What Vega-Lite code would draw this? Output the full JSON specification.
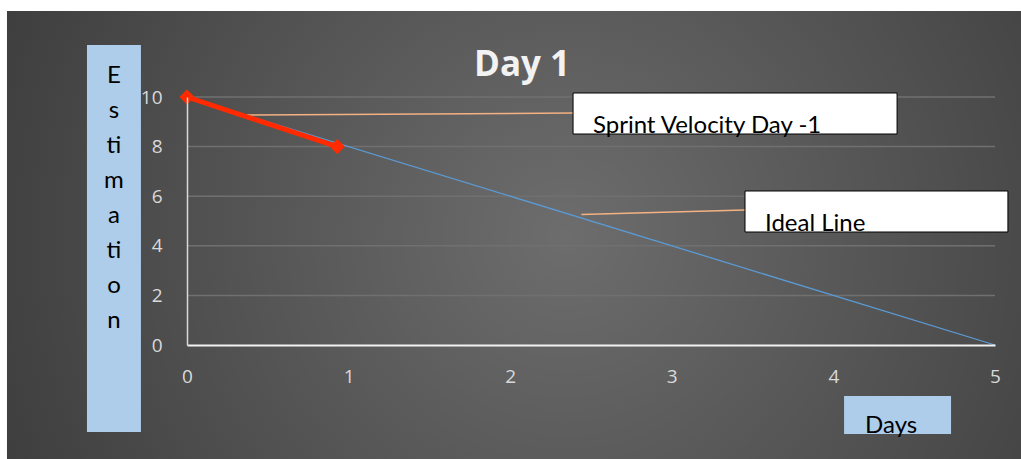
{
  "$schema": "https://vega.github.io/schema/vega-lite/v6.json",
  "width": 808,
  "height": 248,
  "autosize": {"type": "none"},
  "padding": {"left": 187, "top": 97, "right": 26, "bottom": 114},
  "background": "#ffffff",
  "title": {"text": "Day 1", "font": "Open Sans", "fontSize": 35, "fontWeight": "bold", "color": "#f2f2f2", "anchor": "middle", "frame": "group", "dx": -69, "offset": -100, "baseline": "alphabetic", "zindex": 1},
  "config": {
    "view": {"stroke": null},
    "axisX": {"tickCount": 5, "labelFlush": false, "ticks": false, "grid": false, "domainColor": "#f2f2f2", "domainWidth": 2, "labelColor": "#d9d9d9", "labelFontSize": 19, "labelFont": "Open Sans", "labelPadding": 22},
    "axisY": {"tickCount": 5, "ticks": false, "grid": false, "domainColor": "#d9d9d9", "domainWidth": 1.5, "labelColor": "#d9d9d9", "labelFontSize": 19, "labelFont": "Open Sans", "labelPadding": 25}
  },
  "datasets": {
    "ideal": [{"day": 0, "est": 10}, {"day": 5, "est": 0}],
    "sprint": [{"day": 0, "est": 10}, {"day": 0.93, "est": 8}],
    "grid": [{"est": 2}, {"est": 4}, {"est": 6}, {"est": 8}, {"est": 10}]
  },
  "layer": [
    {
      "data": {"values": [{}]},
      "mark": {"type": "rect", "fill": {"gradient": "radial", "x1": 0.55, "y1": 0.5, "r1": 0, "x2": 0.55, "y2": 0.5, "r2": 0.75, "stops": [{"offset": 0, "color": "#6d6d6d"}, {"offset": 1, "color": "#323232"}]}},
      "encoding": {
        "x": {"datum": -1.114, "type": "quantitative", "scale": {"domain": [0, 5], "nice": false, "zero": false}, "title": null},
        "x2": {"datum": 5.17},
        "y": {"datum": 13.47, "type": "quantitative", "scale": {"domain": [0, 10], "nice": false}, "title": null},
        "y2": {"datum": -4.65}
      }
    },
    {
      "data": {"name": "grid"},
      "mark": {"type": "rule", "color": "#707070", "strokeWidth": 1.5},
      "encoding": {
        "y": {"field": "est", "type": "quantitative", "scale": {"domain": [0, 10], "nice": false}, "title": null}
      }
    },
    {
      "data": {"name": "ideal"},
      "mark": {"type": "line", "color": "#5b9bd5", "strokeWidth": 1.3},
      "encoding": {
        "x": {"field": "day", "type": "quantitative", "scale": {"domain": [0, 5], "nice": false, "zero": false}, "title": null, "axis": {"zindex": 1, "tickCount": 5, "labelFlush": false, "ticks": false, "grid": false, "domainColor": "#f2f2f2", "domainWidth": 2, "labelColor": "#d9d9d9", "labelFontSize": 19, "labelFont": "Open Sans", "labelPadding": 22}},
        "y": {"field": "est", "type": "quantitative", "scale": {"domain": [0, 10], "nice": false}, "title": null, "axis": {"zindex": 1, "tickCount": 5, "ticks": false, "grid": false, "domainColor": "#d9d9d9", "domainWidth": 1.5, "labelColor": "#d9d9d9", "labelFontSize": 19, "labelFont": "Open Sans", "labelPadding": 25}}
      }
    },
    {
      "data": {"values": [{}]},
      "mark": {"type": "rule", "color": "#f4b183", "strokeWidth": 1.5},
      "encoding": {
        "x": {"datum": 0.347, "type": "quantitative", "scale": {"domain": [0, 5], "nice": false, "zero": false}, "title": null},
        "x2": {"datum": 2.389},
        "y": {"datum": 9.27, "type": "quantitative", "scale": {"domain": [0, 10], "nice": false}, "title": null},
        "y2": {"datum": 9.35}
      }
    },
    {
      "data": {"values": [{}]},
      "mark": {"type": "rule", "color": "#f4b183", "strokeWidth": 1.5},
      "encoding": {
        "x": {"datum": 2.44, "type": "quantitative", "scale": {"domain": [0, 5], "nice": false, "zero": false}, "title": null},
        "x2": {"datum": 3.453},
        "y": {"datum": 5.26, "type": "quantitative", "scale": {"domain": [0, 10], "nice": false}, "title": null},
        "y2": {"datum": 5.44}
      }
    },
    {
      "data": {"name": "sprint"},
      "mark": {"type": "line", "color": "#ff2a00", "strokeWidth": 5},
      "encoding": {
        "x": {"field": "day", "type": "quantitative", "scale": {"domain": [0, 5], "nice": false, "zero": false}, "title": null},
        "y": {"field": "est", "type": "quantitative", "scale": {"domain": [0, 10], "nice": false}, "title": null}
      }
    },
    {
      "data": {"name": "sprint"},
      "mark": {"type": "point", "shape": "diamond", "filled": true, "color": "#ff2a00", "opacity": 1, "size": 230},
      "encoding": {
        "x": {"field": "day", "type": "quantitative", "scale": {"domain": [0, 5], "nice": false, "zero": false}, "title": null},
        "y": {"field": "est", "type": "quantitative", "scale": {"domain": [0, 10], "nice": false}, "title": null}
      }
    },
    {
      "data": {"values": [{}]},
      "mark": {"type": "rect", "fill": "#000000", "opacity": 0.5, "xOffset": 3, "yOffset": 6},
      "encoding": {
        "x": {"datum": 2.389, "type": "quantitative", "scale": {"domain": [0, 5], "nice": false, "zero": false}, "title": null},
        "x2": {"datum": 4.394},
        "y": {"datum": 10.161, "type": "quantitative", "scale": {"domain": [0, 10], "nice": false}, "title": null},
        "y2": {"datum": 8.508}
      }
    },
    {
      "data": {"values": [{}]},
      "mark": {"type": "rect", "fill": "#ffffff", "stroke": "#000000", "strokeWidth": 1},
      "encoding": {
        "x": {"datum": 2.389, "type": "quantitative", "scale": {"domain": [0, 5], "nice": false, "zero": false}, "title": null},
        "x2": {"datum": 4.394},
        "y": {"datum": 10.161, "type": "quantitative", "scale": {"domain": [0, 10], "nice": false}, "title": null},
        "y2": {"datum": 8.508}
      }
    },
    {
      "data": {"values": [{}]},
      "mark": {"type": "rect", "fill": "#000000", "opacity": 0.5, "xOffset": 3, "yOffset": 6},
      "encoding": {
        "x": {"datum": 3.453, "type": "quantitative", "scale": {"domain": [0, 5], "nice": false, "zero": false}, "title": null},
        "x2": {"datum": 5.08},
        "y": {"datum": 6.21, "type": "quantitative", "scale": {"domain": [0, 10], "nice": false}, "title": null},
        "y2": {"datum": 4.556}
      }
    },
    {
      "data": {"values": [{}]},
      "mark": {"type": "rect", "fill": "#ffffff", "stroke": "#000000", "strokeWidth": 1},
      "encoding": {
        "x": {"datum": 3.453, "type": "quantitative", "scale": {"domain": [0, 5], "nice": false, "zero": false}, "title": null},
        "x2": {"datum": 5.08},
        "y": {"datum": 6.21, "type": "quantitative", "scale": {"domain": [0, 10], "nice": false}, "title": null},
        "y2": {"datum": 4.556}
      }
    },
    {
      "data": {"values": [{}]},
      "mark": {"type": "rect", "fill": "#adcdea"},
      "encoding": {
        "x": {"datum": -0.619, "type": "quantitative", "scale": {"domain": [0, 5], "nice": false, "zero": false}, "title": null},
        "x2": {"datum": -0.285},
        "y": {"datum": 12.097, "type": "quantitative", "scale": {"domain": [0, 10], "nice": false}, "title": null},
        "y2": {"datum": -3.508}
      }
    },
    {
      "data": {"values": [{}]},
      "mark": {"type": "rect", "fill": "#adcdea"},
      "encoding": {
        "x": {"datum": 4.066, "type": "quantitative", "scale": {"domain": [0, 5], "nice": false, "zero": false}, "title": null},
        "x2": {"datum": 4.728},
        "y": {"datum": -2.056, "type": "quantitative", "scale": {"domain": [0, 10], "nice": false}, "title": null},
        "y2": {"datum": -3.589}
      }
    },
    {
      "data": {"values": [{"label": "Sprint Velocity Day -1"}]},
      "mark": {"type": "text", "font": "Lato", "fontSize": 24, "color": "#000000", "align": "left", "baseline": "alphabetic"},
      "encoding": {
        "x": {"datum": 2.512, "type": "quantitative", "scale": {"domain": [0, 5], "nice": false, "zero": false}, "title": null},
        "y": {"datum": 8.55, "type": "quantitative", "scale": {"domain": [0, 10], "nice": false}, "title": null},
        "text": {"field": "label"}
      }
    },
    {
      "data": {"values": [{"label": "Ideal Line"}]},
      "mark": {"type": "text", "font": "Lato", "fontSize": 24, "color": "#000000", "align": "left", "baseline": "alphabetic"},
      "encoding": {
        "x": {"datum": 3.577, "type": "quantitative", "scale": {"domain": [0, 5], "nice": false, "zero": false}, "title": null},
        "y": {"datum": 4.6, "type": "quantitative", "scale": {"domain": [0, 10], "nice": false}, "title": null},
        "text": {"field": "label"}
      }
    },
    {
      "data": {"values": [{"label": "Days"}]},
      "mark": {"type": "text", "font": "Lato", "fontSize": 24, "color": "#000000", "align": "left", "baseline": "alphabetic"},
      "encoding": {
        "x": {"datum": 4.196, "type": "quantitative", "scale": {"domain": [0, 5], "nice": false, "zero": false}, "title": null},
        "y": {"datum": -3.55, "type": "quantitative", "scale": {"domain": [0, 10], "nice": false}, "title": null},
        "text": {"field": "label"}
      }
    },
    {
      "data": {"values": [{"label": "E\ns\nti\nm\na\nti\no\nn"}]},
      "mark": {"type": "text", "font": "Lato", "fontSize": 24, "color": "#000000", "align": "center", "baseline": "alphabetic", "lineBreak": "\n", "lineHeight": 35},
      "encoding": {
        "x": {"datum": -0.452, "type": "quantitative", "scale": {"domain": [0, 5], "nice": false, "zero": false}, "title": null},
        "y": {"datum": 10.565, "type": "quantitative", "scale": {"domain": [0, 10], "nice": false}, "title": null},
        "text": {"field": "label"}
      }
    }
  ]
}
